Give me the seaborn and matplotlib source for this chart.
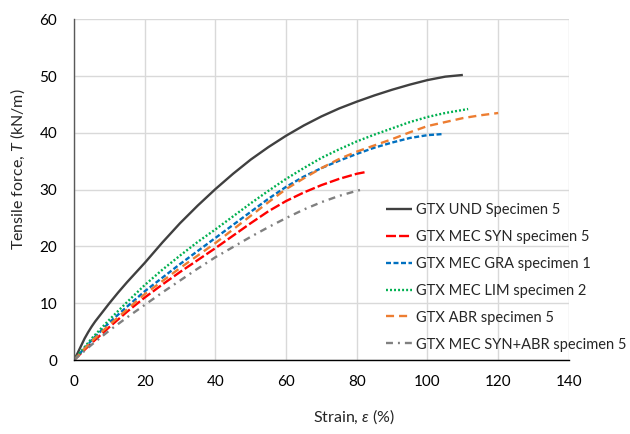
import matplotlib
matplotlib.use("Agg")
import matplotlib.pyplot as plt
import seaborn as sns
import pandas as pd

# ---- data ----
labels = [
    "GTX UND Specimen 5",
    "GTX MEC SYN specimen 5",
    "GTX MEC GRA specimen 1",
    "GTX MEC LIM specimen 2",
    "GTX ABR specimen 5",
    "GTX MEC SYN+ABR specimen 5",
]

und_x = [0, 1, 2, 3, 4, 5, 6, 8, 10, 12.5, 15, 17.5, 20, 25, 30, 35, 40, 45, 50, 55,
         60, 65, 70, 75, 80, 85, 90, 95, 100, 105, 110]
und_y = [0, 1.2, 2.5, 3.8, 4.9, 5.9, 6.8, 8.4, 10.0, 11.9, 13.7, 15.4, 17.1, 20.7, 24.1,
         27.2, 30.1, 32.8, 35.3, 37.5, 39.5, 41.3, 42.9, 44.3, 45.5, 46.6, 47.6, 48.5,
         49.3, 49.9, 50.2]

syn_x = [0, 5, 10, 15, 20, 25, 30, 35, 40, 45, 50, 55, 60, 65, 70, 75, 80, 82.5]
syn_y = [0, 3.0, 5.8, 8.5, 11.0, 13.3, 15.5, 17.6, 19.7, 21.9, 24.1, 26.2, 28.0, 29.5,
         30.8, 31.9, 32.8, 33.1]

gra_x = [0, 5, 10, 15, 20, 25, 30, 35, 40, 45, 50, 55, 60, 65, 70, 75, 80, 85, 90, 95,
         100, 104.5]
gra_y = [0, 3.5, 6.6, 9.4, 12.1, 14.5, 16.9, 19.2, 21.5, 23.8, 26.1, 28.4, 30.5, 32.3,
         33.8, 35.1, 36.3, 37.4, 38.3, 39.1, 39.6, 39.8]

lim_x = [0, 5, 10, 15, 20, 25, 30, 35, 40, 45, 50, 55, 60, 65, 70, 75, 80, 85, 90, 95,
         100, 105, 111.5]
lim_y = [0, 3.8, 7.1, 10.2, 13.2, 15.9, 18.4, 20.8, 23.0, 25.3, 27.6, 29.8, 31.9, 33.8,
         35.6, 37.1, 38.5, 39.7, 40.8, 41.9, 42.8, 43.5, 44.2]

abr_x = [0, 5, 10, 15, 20, 25, 30, 35, 40, 45, 50, 55, 60, 65, 70, 75, 80, 85, 90, 95,
         100, 105, 110, 115, 120]
abr_y = [0, 3.3, 6.2, 8.9, 11.6, 13.9, 16.2, 18.4, 20.6, 23.0, 25.4, 27.8, 30.1, 32.0,
         33.8, 35.4, 36.7, 37.8, 38.9, 40.1, 41.2, 41.9, 42.6, 43.1, 43.5]

synabr_x = [0, 5, 10, 15, 20, 25, 30, 35, 40, 45, 50, 55, 60, 65, 70, 75, 80, 82]
synabr_y = [0, 2.7, 5.2, 7.5, 9.7, 11.9, 14.0, 16.1, 18.1, 19.9, 21.7, 23.4, 25.0, 26.5,
            27.8, 28.9, 29.8, 30.1]

x_ticks = [0, 20, 40, 60, 80, 100, 120, 140]
y_ticks = [0, 10, 20, 30, 40, 50, 60]

series_x = [und_x, syn_x, gra_x, lim_x, abr_x, synabr_x]
series_y = [und_y, syn_y, gra_y, lim_y, abr_y, synabr_y]

colors = ["#404040", "#FF0000", "#0070C0", "#00B050", "#ED7D31", "#808080"]
styles = [
    "-",
    (0, (7.2, 2.2)),
    (0, (3.6, 1.8)),
    (0, (1.4, 1.5)),
    (0, (5.8, 3.6)),
    (0, (5.0, 3.6, 1.4, 3.6)),
]

sns.set_theme(style="white")
plt.rcParams["font.family"] = ["Lato", "DejaVu Sans"]
plt.rcParams["mathtext.fontset"] = "custom"
plt.rcParams["mathtext.it"] = "Lato:italic"
plt.rcParams["mathtext.rm"] = "Lato"
plt.rcParams["lines.scale_dashes"] = False

fig = plt.figure(figsize=(6.3, 4.34), dpi=100)
ax = fig.add_axes([0.1175, 0.1705, 0.7855, 0.785])

for lab, xs, ys, c, ls in zip(labels, series_x, series_y, colors, styles):
    df = pd.DataFrame({"x": xs, "y": ys})
    sns.lineplot(data=df, x="x", y="y", ax=ax, color=c, linestyle=ls,
                 linewidth=1.7, label=lab, sort=False, estimator=None,
                 solid_capstyle="butt", dash_capstyle="butt",
                 solid_joinstyle="round")

ax.set_xlim(0, 140)
ax.set_ylim(0, 60)
ax.set_xticks(x_ticks)
ax.set_yticks(y_ticks)
ax.grid(True, color="#D9D9D9", linewidth=1.0)
ax.set_axisbelow(True)
for s in ["top", "right"]:
    ax.spines[s].set_visible(False)
ax.spines["left"].set_color("#595959")
ax.spines["left"].set_linewidth(1.0)
ax.spines["bottom"].set_color("black")
ax.spines["bottom"].set_linewidth(1.0)
ax.tick_params(axis="both", length=0, labelsize=11, colors="black")
ax.tick_params(axis="x", pad=11)
ax.tick_params(axis="y", pad=12)

ax.set_xlabel(r"Strain, $\varepsilon$ (%)", fontsize=11.5)
ax.set_ylabel(r"Tensile force, $T$ (kN/m)", fontsize=11.5)
ax.xaxis.set_label_coords(0.566, -0.167)
ax.xaxis.label.set_va("center")
ax.yaxis.set_label_coords(-0.113, 0.56)
ax.yaxis.label.set_va("center")

leg = ax.legend(loc="upper left", bbox_to_anchor=(0.613, 0.533),
                bbox_transform=fig.transFigure, frameon=False,
                fontsize=10.5, handlelength=1.8, handletextpad=0.25,
                labelspacing=0.89, borderpad=0, borderaxespad=0)

fig.savefig("out.png", dpi=100)
